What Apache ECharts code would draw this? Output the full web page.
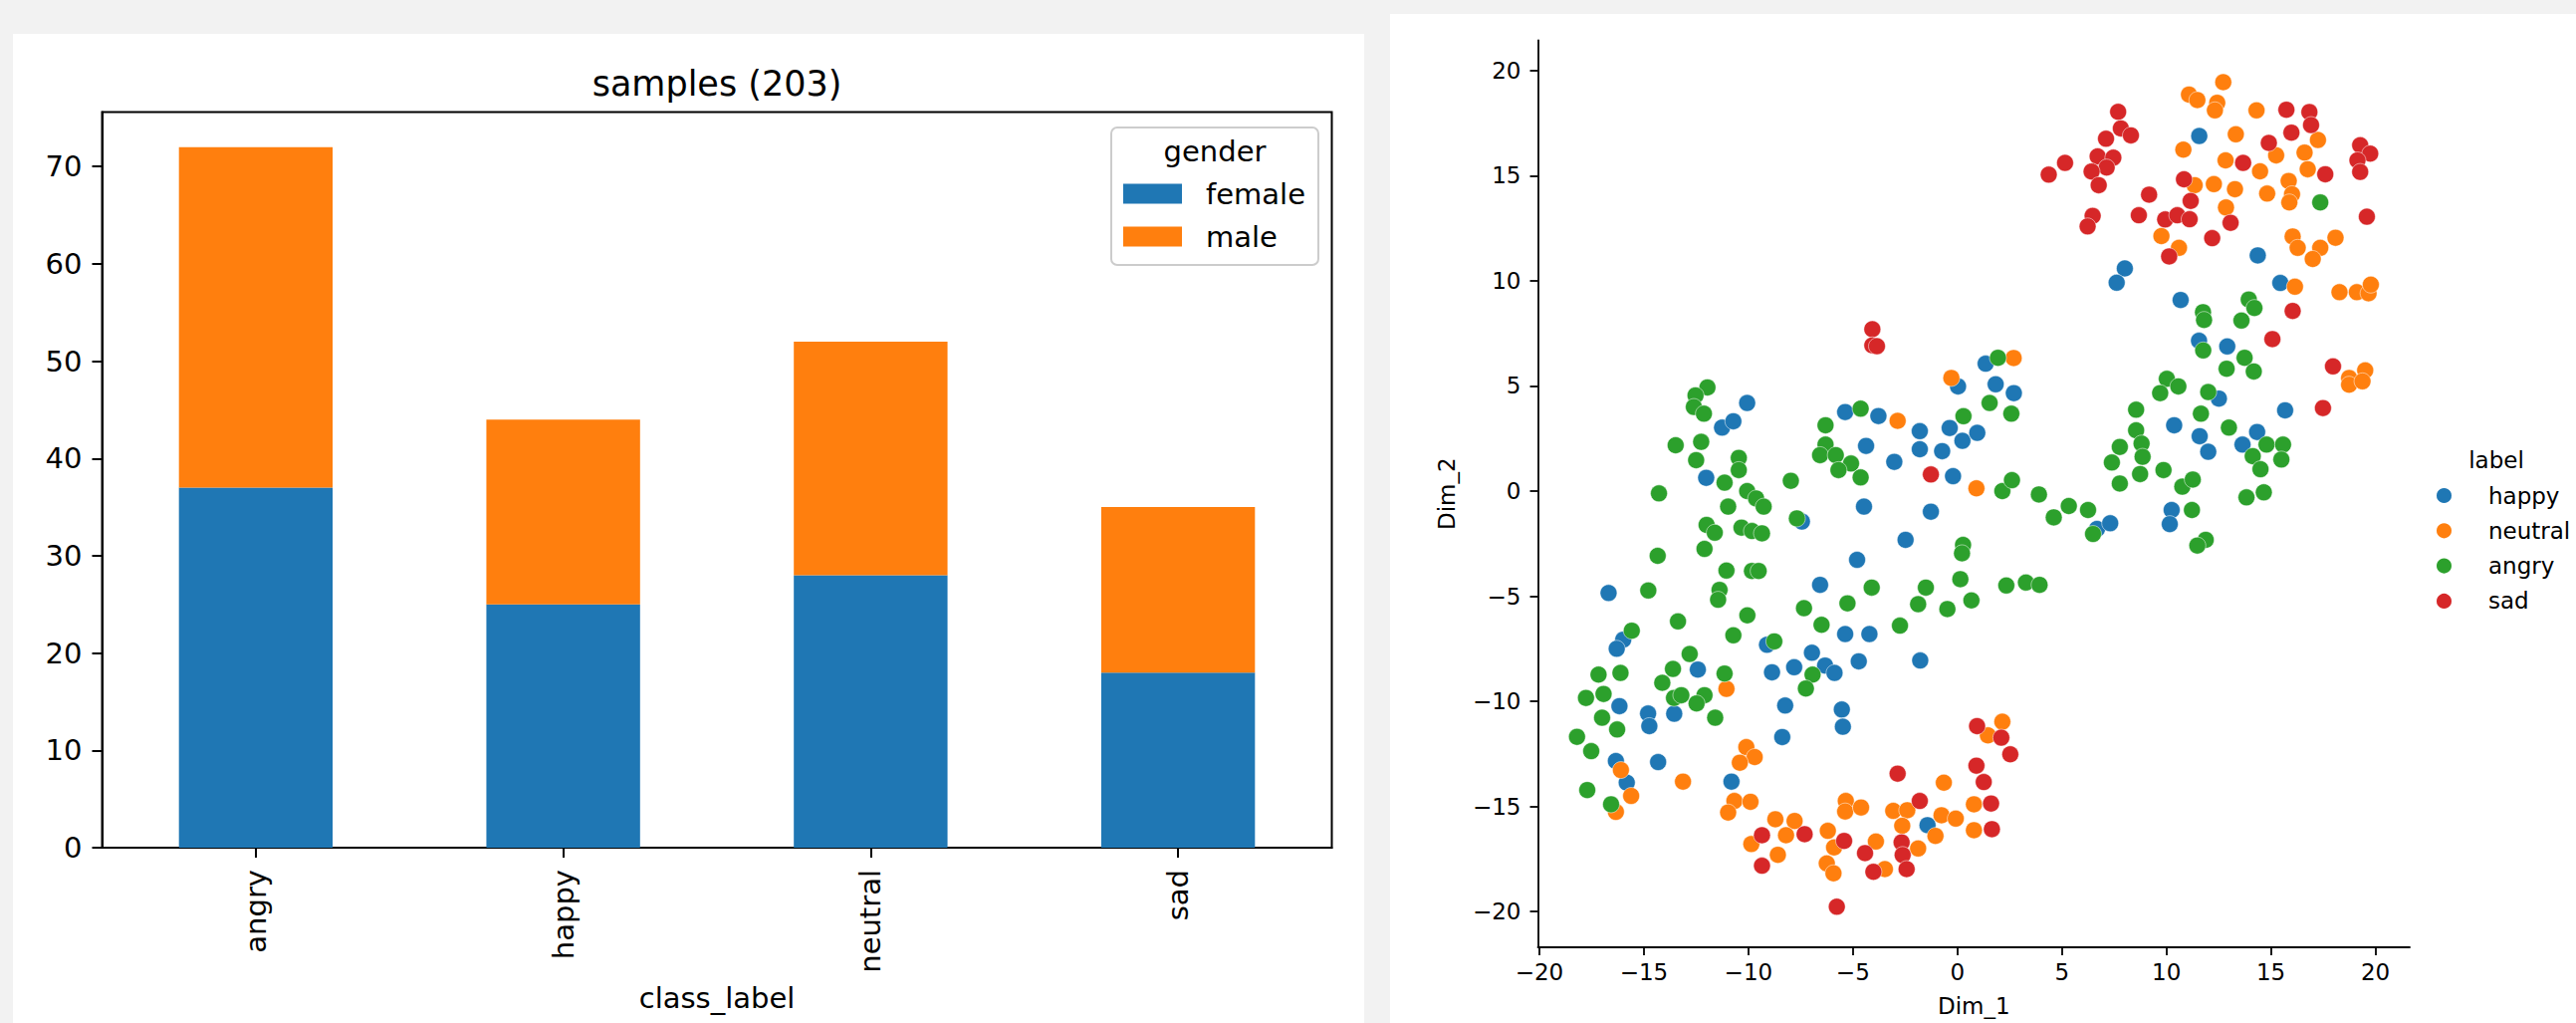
<!DOCTYPE html>
<html>
<head>
<meta charset="utf-8">
<script src="https://cdn.jsdelivr.net/npm/echarts@6/dist/echarts.min.js"></script>
<style>
html,body{margin:0;padding:0;background:#f2f2f2;width:2587px;height:1027px;overflow:hidden;}
.panel{position:absolute;background:#ffffff;}
#chart{position:absolute;left:0;top:0;width:2587px;height:1027px;}
</style>
</head>
<body>
<div class="panel" style="left:13px;top:34px;width:1357px;height:993px;"></div>
<div class="panel" style="left:1396px;top:14px;width:1191px;height:1013px;"></div>
<div id="chart"></div>
<script>
// ---------- data: left bar chart ----------
const categories = ['angry', 'happy', 'neutral', 'sad'];
const femaleCounts = [37, 25, 28, 18];
const maleCounts = [35, 19, 24, 17];
const countTicks = [0, 10, 20, 30, 40, 50, 60, 70];

// ---------- data: right scatter (Dim_1, Dim_2) ----------
const dimTicks = [-20, -15, -10, -5, 0, 5, 10, 15, 20];
const labelNames = ['happy', 'neutral', 'angry', 'sad'];

const happyPts = [
  [0.03,4.98],[-10.06,4.19],[-11.26,3.02],[-10.72,3.32],[-5.37,3.76],[-3.78,3.57],[-1.80,2.85],[-0.37,3.00],
  [0.24,2.39],[-4.37,2.15],[-1.80,1.99],[-0.73,1.90],[-3.02,1.39],[-0.21,0.71],[-12.02,0.63],
  [-7.44,-1.45],[-4.47,-0.74],[-1.27,-0.98],[-2.48,-2.32],[-4.80,-3.27],[-16.69,-4.85],[-6.57,-4.46],
  [-15.99,-7.07],[-16.30,-7.50],[-9.11,-7.31],[-5.37,-6.80],[-4.21,-6.80],[-4.72,-8.10],[-1.78,-8.06],
  [-6.96,-7.69],[-6.33,-8.30],[-5.88,-8.65],[-7.81,-8.38],[-8.87,-8.62],[-12.42,-8.49],[-16.17,-10.23],
  [-14.80,-10.58],[-14.74,-11.18],[-13.55,-10.59],[-8.24,-10.20],[-5.53,-10.39],[-5.48,-11.21],[-8.38,-11.70],
  [-16.34,-12.84],[-15.82,-13.87],[-14.32,-12.89],[-10.81,-13.82],[-1.43,-15.89],
  [6.68,-1.80],[7.31,-1.53],[10.25,-0.90],[10.16,-1.57],
  [11.57,16.89],[8.01,10.59],[7.62,9.91],[14.37,11.21],[15.45,9.90],[10.68,9.09],[11.56,7.15],[12.91,6.88],
  [12.51,4.40],[15.68,3.84],[10.37,3.13],[11.59,2.61],[12.00,1.87],[14.34,2.81],[13.64,2.21],
  [1.35,6.06],[1.83,5.08],[2.70,4.66],[0.95,2.77]
];
const neutralPts = [
  [-0.29,5.38],[-2.86,3.34],
  [-11.05,-9.41],[-16.10,-13.27],[-13.13,-13.82],[-15.61,-14.50],[-16.34,-15.26],[-10.10,-12.18],[-9.70,-12.65],
  [-10.41,-12.92],[-10.67,-14.74],[-9.90,-14.78],[-10.97,-15.29],[-8.71,-15.61],[-7.79,-15.69],[-8.20,-16.37],
  [-9.86,-16.79],[-8.59,-17.30],[-6.20,-16.16],[-5.90,-16.95],[-6.25,-17.71],[-5.93,-18.18],[-5.34,-14.74],
  [-5.37,-15.24],[-4.61,-15.05],[-3.90,-16.67],[-3.47,-17.98],[-3.07,-15.21],[-2.40,-15.18],[-2.64,-15.92],
  [-1.88,-17.00],[-0.65,-13.87],[-0.76,-15.42],[-1.05,-16.40],[-0.08,-15.58],
  [0.91,0.13],[2.15,-10.97],[1.46,-11.62],[0.79,-14.90],[0.79,-16.13],
  [12.72,19.45],[11.08,18.86],[11.48,18.60],[12.43,18.47],[12.32,18.11],[14.31,18.11],[13.32,16.97],[10.81,16.24],
  [17.25,16.70],[15.25,15.97],[16.61,16.10],[12.83,15.73],[14.48,15.21],[16.76,15.31],[11.35,14.55],[12.27,14.60],
  [13.28,14.36],[15.85,14.75],[14.82,14.15],[16.01,14.12],[15.88,13.73],[12.85,13.49],[9.76,12.13],[10.60,11.57],
  [16.04,12.11],[16.28,11.57],[17.36,11.57],[18.09,12.05],[17.00,11.04],[16.15,9.72],[18.28,9.46],[19.11,9.46],
  [19.67,9.41],[19.78,9.82],[19.51,5.74],[18.74,5.38],[18.74,5.06],[19.38,5.22],[2.69,6.33]
];
const angryPts = [
  [-11.96,4.93],[-12.53,4.55],[-12.61,4.00],[-12.13,3.68],[-4.63,3.92],[-6.31,3.13],[0.29,3.56],[-13.48,2.18],
  [-12.26,2.34],[-6.31,2.21],[-6.57,1.71],[-5.82,1.71],[-5.09,1.31],[-5.69,1.00],[-12.50,1.47],[-10.46,1.58],
  [-10.46,1.00],[-11.14,0.40],[-7.97,0.49],[-4.63,0.65],
  [-14.28,-0.11],[-10.06,0.00],[-9.63,-0.35],[-9.27,-0.74],[-10.97,-0.74],[-7.68,-1.30],[-12.00,-1.61],[-11.61,-1.98],
  [-10.33,-1.74],[-9.83,-1.90],[-9.35,-2.01],[-12.10,-2.75],[-14.34,-3.08],[0.27,-2.56],[0.22,-2.96],[-11.05,-3.78],
  [-9.83,-3.80],[-9.51,-3.80],[-14.79,-4.73],[-11.38,-4.70],[-11.45,-5.17],[0.14,-4.19],[-0.48,-5.61],[0.67,-5.20],
  [-1.51,-4.59],[-1.88,-5.38],[-4.10,-4.59],[-5.26,-5.34],[-2.75,-6.40],[-7.34,-5.57],[-6.50,-6.36],[-10.05,-5.91],
  [-13.37,-6.20],[-10.72,-6.86],[-15.58,-6.64],[-8.76,-7.15],[-6.93,-8.73],[-7.25,-9.39],[-12.81,-7.75],[-13.61,-8.46],
  [-14.12,-9.12],[-13.56,-9.84],[-13.21,-9.71],[-12.10,-9.71],[-12.48,-10.10],[-11.14,-8.68],[-11.59,-10.78],
  [-17.17,-8.73],[-16.12,-8.65],[-17.77,-9.84],[-16.93,-9.65],[-17.00,-10.78],[-16.28,-11.34],[-18.20,-11.69],
  [-17.52,-12.37],[-17.71,-14.22],[-16.57,-14.90],
  [2.15,0.00],[3.90,-0.16],[4.61,-1.25],[5.33,-0.71],[6.25,-0.90],[6.49,-2.04],[11.22,-0.90],[10.76,0.21],
  [13.83,-0.30],[14.66,-0.06],[11.88,-2.32],[11.48,-2.59],[2.34,-4.49],[3.28,-4.35],[3.93,-4.46],
  [17.36,13.73],[13.94,9.11],[14.21,8.71],[11.75,8.51],[11.80,8.14],[13.59,8.11],[11.76,6.69],[13.74,6.34],
  [12.88,5.82],[14.18,5.69],[10.02,5.34],[10.57,4.98],[9.70,4.66],[12.00,4.71],[8.55,3.87],[11.65,3.68],
  [12.99,3.02],[8.55,2.89],[8.81,2.26],[7.77,2.10],[8.86,1.63],[7.39,1.36],[8.74,0.81],[9.86,1.00],[7.77,0.36],
  [14.79,2.21],[15.58,2.21],[14.13,1.66],[15.50,1.50],[14.50,1.04],[11.26,0.55],[1.94,6.34],[1.54,4.19],
  [2.58,3.68],[2.61,0.52]
];
const sadPts = [
  [-4.07,7.70],[-4.07,6.93],[-3.85,6.89],[-1.27,0.79],
  [-9.35,-16.37],[-7.31,-16.32],[-9.35,-17.82],[-5.42,-16.64],[-5.77,-19.77],[-4.42,-17.22],[-4.02,-18.11],
  [-2.86,-13.44],[-2.67,-16.71],[-2.62,-17.31],[-2.43,-17.98],[-1.80,-14.74],
  [0.94,-11.18],[2.10,-11.73],[2.53,-12.52],[0.91,-13.06],[1.26,-13.84],[1.61,-14.86],[1.65,-16.08],
  [7.69,18.04],[7.82,17.25],[8.30,16.92],[7.11,16.76],[6.71,15.92],[7.46,15.86],[7.14,15.39],[6.42,15.20],
  [6.76,14.55],[5.15,15.61],[4.37,15.05],[6.47,13.09],[6.23,12.59],[9.17,14.10],[8.68,13.12],[9.94,12.92],
  [10.52,13.12],[11.11,12.93],[11.16,13.80],[10.84,14.83],[10.13,11.16],[12.19,12.03],[13.07,12.76],[13.67,15.61],
  [14.90,16.56],[15.98,17.05],[15.74,18.14],[16.84,18.03],[16.92,17.41],[17.60,15.07],[19.27,16.45],[19.75,16.05],
  [19.14,15.73],[19.27,15.18],[19.59,13.05],[16.04,8.57],[15.07,7.23],[17.97,5.93],[17.49,3.95]
];

const FONT = 'DejaVu Sans';
const minus = v => String(v).replace('-', '\u2212');

const scatterSeries = [
  {name: 'happy', data: happyPts, color: '#1f77b4'},
  {name: 'neutral', data: neutralPts, color: '#ff7f0e'},
  {name: 'angry', data: angryPts, color: '#2ca02c'},
  {name: 'sad', data: sadPts, color: '#d62728'}
].map(s => ({
  type: 'scatter', name: s.name, xAxisIndex: 1, yAxisIndex: 1, data: s.data,
  symbol: 'circle', symbolSize: 17,
  itemStyle: {color: s.color, borderColor: '#ffffff', borderWidth: 0.5, opacity: 1}
}));

const chart = echarts.init(document.getElementById('chart'), null, {renderer: 'svg', width: 2587, height: 1027});
const axisLineL = {show: true, onZero: false, lineStyle: {color: '#000', width: 2}};
const axisLineR = {show: true, onZero: false, lineStyle: {color: '#000', width: 1.8}};

chart.setOption({
  animation: false,
  backgroundColor: 'transparent',
  textStyle: {fontFamily: FONT, color: '#000'},
  title: {
    text: 'samples (203)', left: 720, top: 66, textAlign: 'center', padding: 0,
    textStyle: {fontFamily: FONT, fontSize: 35, fontWeight: 'normal', color: '#000'}
  },
  legend: [
    {
      data: ['female', 'male'], left: 1116, top: 128, orient: 'vertical', icon: 'rect',
      itemWidth: 59, itemHeight: 20, itemGap: 14, padding: [52, 13, 14, 12],
      borderColor: '#cccccc', borderWidth: 2, borderRadius: 6, backgroundColor: 'rgba(255,255,255,0.8)',
      selectedMode: false,
      textStyle: {fontFamily: FONT, fontSize: 29, lineHeight: 29, color: '#000', padding: [0, 0, 0, 19]}
    },
    {
      data: labelNames, left: 2445, top: 486, orient: 'vertical', icon: 'circle',
      itemWidth: 17, itemHeight: 17, itemGap: 12.3, padding: 0, selectedMode: false,
      textStyle: {fontFamily: FONT, fontSize: 23, lineHeight: 23, color: '#000', padding: [0, 0, 0, 31]}
    }
  ],
  graphic: [
    {type: 'text', x: 1220, y: 152, z: 100,
     style: {text: 'gender', fontFamily: FONT, fontSize: 29, fill: '#000', align: 'center', verticalAlign: 'middle'}},
    {type: 'text', x: 2507, y: 462, z: 100,
     style: {text: 'label', fontFamily: FONT, fontSize: 23, fill: '#000', align: 'center', verticalAlign: 'middle'}}
  ],
  grid: [
    {left: 102.5, top: 112.5, width: 1235, height: 738.5, show: true, borderColor: '#000', borderWidth: 2, backgroundColor: 'transparent'},
    {left: 1544.5, top: 40.5, width: 875.5, height: 910.5, show: false}
  ],
  xAxis: [
    {
      type: 'category', gridIndex: 0, data: categories,
      axisLine: axisLineL,
      axisTick: {show: true, alignWithLabel: true, length: 10, lineStyle: {color: '#000', width: 2}},
      axisLabel: {rotate: 90, margin: 22, fontFamily: FONT, fontSize: 29, color: '#000'},
      splitLine: {show: false},
      name: 'class_label', nameLocation: 'middle', nameGap: 136,
      nameTextStyle: {fontFamily: FONT, fontSize: 29, color: '#000'}
    },
    {
      type: 'value', gridIndex: 1, min: -20.07, max: 21.64,
      axisLine: axisLineR,
      axisTick: {show: true, customValues: dimTicks, length: 8, lineStyle: {color: '#000', width: 1.8}},
      axisLabel: {customValues: dimTicks, formatter: minus, margin: 13, fontFamily: FONT, fontSize: 23, color: '#000'},
      splitLine: {show: false},
      name: 'Dim_1', nameLocation: 'middle', nameGap: 47,
      nameTextStyle: {fontFamily: FONT, fontSize: 23, color: '#000'}
    }
  ],
  yAxis: [
    {
      type: 'value', gridIndex: 0, min: 0, max: 75.6,
      axisLine: axisLineL,
      axisTick: {show: true, customValues: countTicks, length: 10, lineStyle: {color: '#000', width: 2}},
      axisLabel: {customValues: countTicks, margin: 20, fontFamily: FONT, fontSize: 29, color: '#000'},
      splitLine: {show: false}
    },
    {
      type: 'value', gridIndex: 1, min: -21.7, max: 21.44,
      axisLine: axisLineR,
      axisTick: {show: true, customValues: dimTicks, length: 8, lineStyle: {color: '#000', width: 1.8}},
      axisLabel: {customValues: dimTicks, formatter: minus, margin: 17, fontFamily: FONT, fontSize: 23, color: '#000'},
      splitLine: {show: false},
      name: 'Dim_2', nameLocation: 'middle', nameRotate: 90, nameGap: 80,
      nameTextStyle: {fontFamily: FONT, fontSize: 23, color: '#000'}
    }
  ],
  series: [
    {type: 'bar', name: 'female', stack: 'g', xAxisIndex: 0, yAxisIndex: 0, data: femaleCounts, barWidth: '50%',
     itemStyle: {color: '#1f77b4'}},
    {type: 'bar', name: 'male', stack: 'g', xAxisIndex: 0, yAxisIndex: 0, data: maleCounts, barWidth: '50%',
     itemStyle: {color: '#ff7f0e'}}
  ].concat(scatterSeries)
});
</script>
</body>
</html>
